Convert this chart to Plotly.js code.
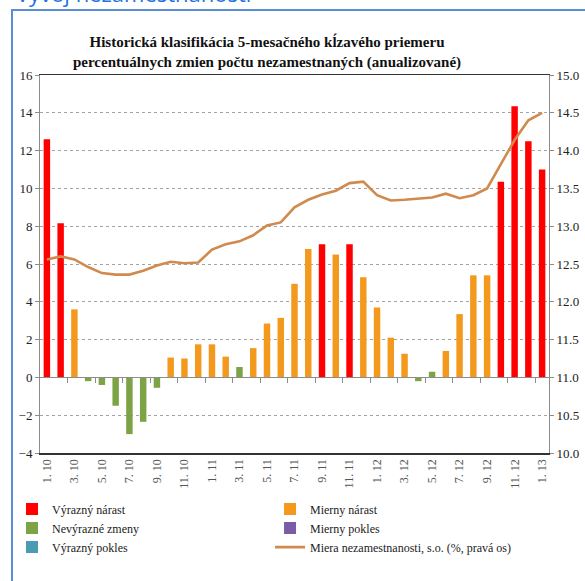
<!DOCTYPE html>
<html>
<head>
<meta charset="utf-8">
<script src="https://cdn.plot.ly/plotly-3.0.1.min.js"></script>
<style>
html,body{margin:0;padding:0;background:#fff;}
#chart{width:585px;height:581px;}
</style>
</head>
<body>
<div id="chart"></div>
<script>
// ---- data ----
const months = ["1. 10","2. 10","3. 10","4. 10","5. 10","6. 10","7. 10","8. 10","9. 10","10. 10","11. 10","12. 10",
                "1. 11","2. 11","3. 11","4. 11","5. 11","6. 11","7. 11","8. 11","9. 11","10. 11","11. 11","12. 11",
                "1. 12","2. 12","3. 12","4. 12","5. 12","6. 12","7. 12","8. 12","9. 12","10. 12","11. 12","12. 12",
                "1. 13"];
const changes = [12.6, 8.15, 3.6, -0.2, -0.4, -1.5, -3.0, -2.35, -0.55, 1.05, 1.0, 1.75,
                 1.75, 1.1, 0.55, 1.55, 2.85, 3.15, 4.95, 6.8, 7.05, 6.5, 7.05, 5.3,
                 3.7, 2.1, 1.25, -0.2, 0.3, 1.4, 3.35, 5.4, 5.4, 10.35, 14.35, 12.5,
                 11.0];
const classes = ["VN","VN","MN","NZ","NZ","NZ","NZ","NZ","NZ","MN","MN","MN",
                 "MN","MN","NZ","MN","MN","MN","MN","MN","VN","MN","VN","MN",
                 "MN","MN","MN","NZ","NZ","MN","MN","MN","MN","VN","VN","VN",
                 "VN"];
const unemployment = [12.56, 12.60, 12.56, 12.46, 12.38, 12.36, 12.36, 12.41, 12.48, 12.53, 12.51, 12.52,
                      12.69, 12.76, 12.80, 12.88, 13.01, 13.05, 13.25, 13.35, 13.42, 13.47, 13.57, 13.59,
                      13.41, 13.34, 13.35, 13.37, 13.38, 13.43, 13.37, 13.41, 13.50, 13.82, 14.14, 14.40,
                      14.50];
const tickLabels = ["1. 10","3. 10","5. 10","7. 10","9. 10","11. 10","1. 11","3. 11","5. 11","7. 11","9. 11","11. 11",
                    "1. 12","3. 12","5. 12","7. 12","9. 12","11. 12","1. 13"];
const classCodes = ["VN","MN","NZ","MP","VP"];
const classNames = ["Výrazný nárast","Mierny nárast","Nevýrazné zmeny","Mierny pokles","Výrazný pokles"];
const lineName = "Miera nezamestnanosti, s.o. (%, pravá os)";

// ---- styles ----
const classColors = {VN:"#FF0000", MN:"#F39A1E", NZ:"#7EA346", MP:"#7B5CA6", VP:"#4A9BB4"};
const lineColor = "#D08A4E";
const serif = "Liberation Serif";

const traces = classCodes.map((c, k) => ({
  type: "bar",
  name: classNames[k],
  x: months,
  y: changes.map((v, i) => classes[i] === c ? v : null),
  marker: {color: classColors[c], line: {width: 0}},
  xaxis: "x", yaxis: "y",
  hoverinfo: "skip"
}));
traces.push({
  type: "scatter", mode: "lines",
  name: lineName,
  x: months, y: unemployment,
  xaxis: "x2", yaxis: "y2",
  line: {color: lineColor, width: 2.6},
  hoverinfo: "skip"
});

// boundary ticks every two months on the zero line
const boundaryTicks = months.map((m, i) => i + 0.5).filter((v, i) => i % 2 === 1 && i < months.length - 1);

const layout = {
  width: 585, height: 581,
  margin: {l: 40, r: 36, t: 75, b: 128},
  paper_bgcolor: "#fff", plot_bgcolor: "#fff",
  font: {family: serif, color: "#222", size: 13},
  barmode: "relative",
  bargap: 0.53,
  showlegend: true,
  title: {
    text: "<b>Historická klasifikácia 5-mesačného kĺzavého priemeru</b><br><b>percentuálnych zmien počtu nezamestnaných (anualizované)</b>",
    font: {family: serif, size: 15, color: "#111"},
    xref: "paper", x: 0.446, xanchor: "center",
    yref: "container", y: 1 - 47/581, yanchor: "top"
  },
  xaxis: {
    type: "category", range: [-0.5, months.length - 0.5], anchor: "y",
    showline: true, linecolor: "#333", linewidth: 1.5, mirror: true,
    ticks: "", tickmode: "array", tickvals: tickLabels, ticktext: tickLabels,
    tickangle: -90, tickfont: {family: serif, size: 12, color: "#555"},
    showgrid: false, zeroline: false
  },
  xaxis2: {
    type: "category", overlaying: "x", anchor: "free", position: 0.2, side: "bottom",
    range: [-0.5, months.length - 0.5],
    showline: true, linecolor: "#8c8c8c", linewidth: 1,
    ticks: "outside", ticklen: 5, tickcolor: "#8c8c8c",
    tickmode: "array", tickvals: boundaryTicks, showticklabels: false,
    showgrid: false, zeroline: false
  },
  yaxis: {
    range: [-4, 16], tickmode: "linear", tick0: 0, dtick: 2,
    showgrid: true, gridcolor: "#a3a3a3", griddash: "dot", gridwidth: 1,
    zeroline: false, showline: true, linecolor: "#8c8c8c",
    ticks: "outside", ticklen: 4, tickcolor: "#8c8c8c",
    tickfont: {family: serif, size: 13, color: "#222"}
  },
  yaxis2: {
    overlaying: "y", side: "right", anchor: "x",
    range: [10, 15], tickmode: "linear", tick0: 10, dtick: 0.5, tickformat: ".1f",
    showgrid: false, zeroline: false, showline: true, linecolor: "#8c8c8c",
    ticks: "outside", ticklen: 4, tickcolor: "#8c8c8c",
    tickfont: {family: serif, size: 13, color: "#222"}
  },
  legend: {
    orientation: "h", x: -0.055, xanchor: "left", y: -0.11, yanchor: "top",
    entrywidth: 0.47, entrywidthmode: "fraction",
    font: {family: serif, size: 12, color: "#222"},
    traceorder: "normal", tracegroupgap: 0, itemwidth: 30,
    bgcolor: "rgba(0,0,0,0)"
  },
  shapes: [{
    type: "rect", xref: "paper", yref: "paper",
    x0: (12 - 40) / 509, x1: 1.2, y0: -0.6, y1: (453 - 10) / 378,
    line: {color: "#5A8ED4", width: 2}, fillcolor: "rgba(0,0,0,0)", layer: "below"
  }],
  annotations: [{
    text: "Vývoj nezamestnanosti", showarrow: false,
    xref: "paper", yref: "paper", x: (14 - 40) / 509, xanchor: "left",
    y: (453 - 10) / 378, yanchor: "bottom",
    font: {family: "Open Sans", size: 22, color: "#1F72DF"}
  }]
};

Plotly.newPlot("chart", traces, layout, {displayModeBar: false, staticPlot: true});
</script>
</body>
</html>
